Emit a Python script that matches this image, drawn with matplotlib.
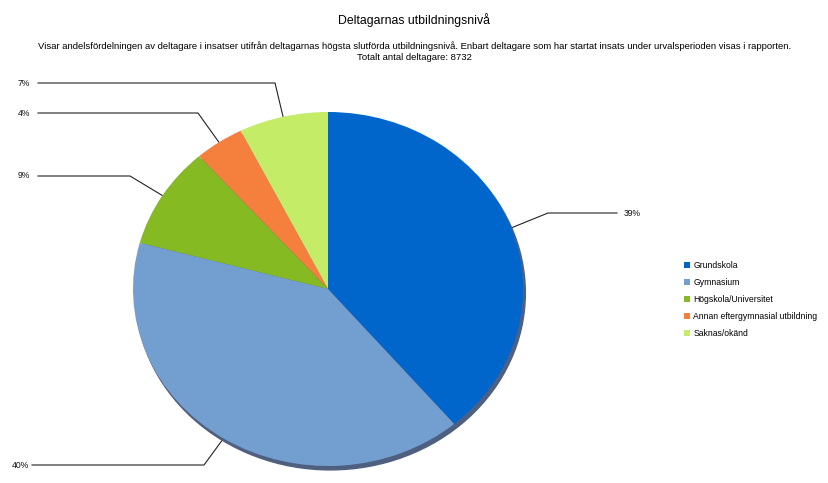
import numpy as np
import matplotlib
matplotlib.use("Agg")
import matplotlib.pyplot as plt
from matplotlib.patches import Ellipse
from matplotlib.lines import Line2D

plt.rcParams['font.family'] = ['Liberation Sans', 'DejaVu Sans']

## data
categories = ["Grundskola", "Gymnasium", "Högskola/Universitet",
              "Annan eftergymnasial utbildning", "Saknas/okänd"]
counts = [3388, 3528, 812, 358, 646]
colors = ["#0066CC", "#729FCF", "#86BA22", "#F5803E", "#C5EC66"]

title = "Deltagarnas utbildningsnivå"
subtitle = ("Visar andelsfördelningen av deltagare i insatser utifrån deltagarnas högsta slutförda "
            "utbildningsnivå. Enbart deltagare som har startat insats under urvalsperioden visas i rapporten.\n"
            "Totalt antal deltagare: 8732")

## layout (pixels)
W, H = 829, 483
cx, cy, rx, ry = 328, 289, 195, 177
# elbow of each leader line and label x position
elbows = [(548, 213), (204, 465), (130, 176), (198, 113), (275, 83)]
label_x = [624, 12, 18, 18, 18]

fig = plt.figure(figsize=(W / 100, H / 100), dpi=100)

# overlay axes in pixel coords (y downward)
ov = fig.add_axes([0, 0, 1, 1])
ov.set_xlim(0, W)
ov.set_ylim(H, 0)
ov.axis("off")

ax = fig.add_axes([(cx - rx) / W, 1 - (cy + ry) / H, 2 * rx / W, 2 * ry / H])
ax.axis("off")

# shadow
ax.add_patch(Ellipse((0.012, -0.022), 2, 2, color="#4f5f80", zorder=0,
                     clip_on=False))
wedges, _ = ax.pie(counts, colors=colors, startangle=90, counterclock=False,
                   radius=1, wedgeprops=dict(linewidth=0))
for w in wedges:
    w.set_zorder(1)
    w.set_clip_on(False)
ax.set_xlim(-1, 1)
ax.set_ylim(-1, 1)
ax.set_aspect("auto")

total = sum(counts)
for w, n, (ex, ey), lx in zip(wedges, counts, elbows, label_x):
    mid = np.deg2rad((w.theta1 + w.theta2) / 2)
    px = cx + rx * np.cos(mid)
    py = cy - ry * np.sin(mid)
    if lx > cx:
        xs = [px, ex, lx - 7]
    else:
        xs = [px, ex, lx + 20]
    ov.add_line(Line2D(xs, [py, ey, ey], color="#222222", lw=0.8))
    ov.text(lx, ey, "%d%%" % round(n / total * 100), fontsize=6.2,
            va="center", ha="left", color="#111111")

fig.text(0.5, 1 - 20 / H, title, ha="center", va="center", fontsize=8.8)
fig.text(0.5, 1 - 51.5 / H, subtitle, ha="center", va="center", fontsize=6.8,
         linespacing=1.2)

leg = fig.legend(wedges, categories, loc="upper left",
                 bbox_to_anchor=(676 / W, 1 - 253 / H), frameon=False,
                 fontsize=6.2, handlelength=0.7, handleheight=0.7,
                 handletextpad=0.4, labelspacing=0.93)

fig.savefig("out.png", dpi=100)
